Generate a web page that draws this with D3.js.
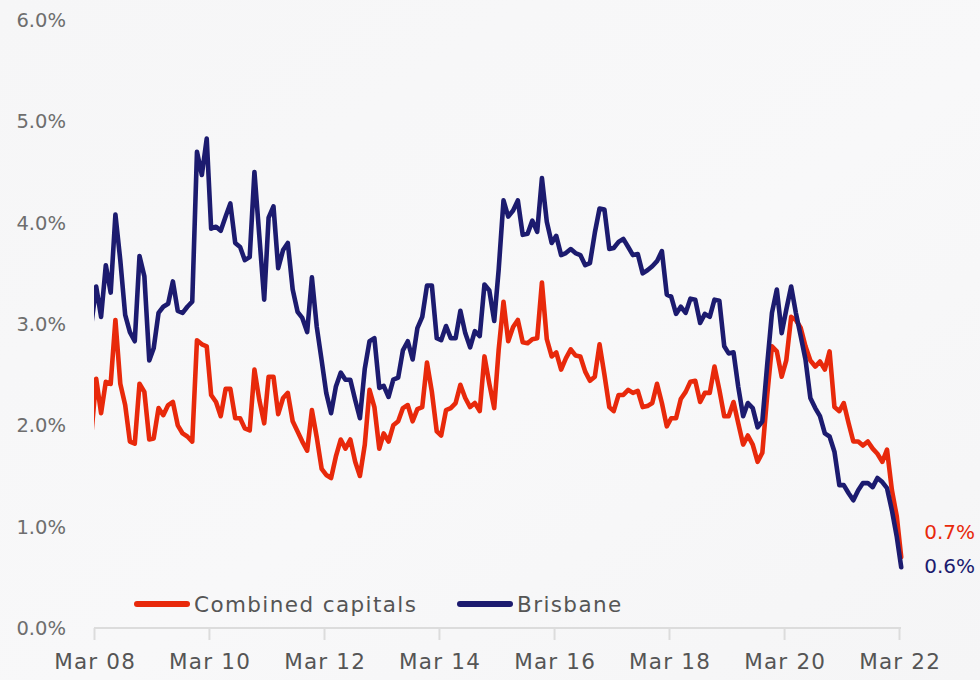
<!DOCTYPE html>
<html>
<head>
<meta charset="utf-8">
<script src="https://cdn.jsdelivr.net/npm/d3@7"></script>
<style>
  html, body { margin: 0; padding: 0; background: #f7f7f8; }
  svg { display: block; }
  text { font-family: "DejaVu Sans", "Noto Sans", sans-serif; }
</style>
</head>
<body>
<svg id="chart" width="980" height="680"></svg>
<script>
// Series, legend order
const seriesNames = ["Combined capitals", "Brisbane"];
const seriesColors = ["#e8290b", "#1c1b6f"];

// First observation month (Feb 2008); one value per month through Mar 2022, in %
const firstMonth = [2008, 1];

const combinedCapitals = [
  1.94,
  2.46, 2.12, 2.43, 2.41, 3.04, 2.41, 2.20, 1.84, 1.82, 2.41, 2.33, 1.86,
  1.87, 2.17, 2.10, 2.20, 2.23, 2.00, 1.92, 1.89, 1.84, 2.84, 2.80, 2.78,
  2.30, 2.23, 2.09, 2.36, 2.36, 2.07, 2.07, 1.97, 1.95, 2.55, 2.25, 2.02,
  2.48, 2.48, 2.11, 2.27, 2.32, 2.04, 1.94, 1.84, 1.75, 2.15, 1.88, 1.57,
  1.51, 1.48, 1.69, 1.86, 1.77, 1.86, 1.64, 1.50, 1.81, 2.35, 2.18, 1.77,
  1.92, 1.84, 2.00, 2.04, 2.17, 2.20, 2.04, 2.16, 2.18, 2.62, 2.33, 1.94,
  1.90, 2.15, 2.17, 2.22, 2.40, 2.27, 2.18, 2.22, 2.14, 2.68, 2.41, 2.17,
  2.74, 3.22, 2.83, 2.97, 3.04, 2.82, 2.81, 2.85, 2.86, 3.41, 2.85, 2.68,
  2.72, 2.55, 2.66, 2.75, 2.69, 2.68, 2.53, 2.44, 2.48, 2.80, 2.50, 2.18,
  2.14, 2.30, 2.30, 2.35, 2.32, 2.34, 2.18, 2.19, 2.22, 2.41, 2.22, 1.99,
  2.07, 2.07, 2.26, 2.33, 2.43, 2.44, 2.23, 2.32, 2.32, 2.58, 2.35, 2.09,
  2.09, 2.23, 2.02, 1.81, 1.90, 1.81, 1.64, 1.73, 2.30, 2.78, 2.73, 2.48,
  2.64, 3.07, 3.04, 2.96, 2.78, 2.64, 2.58, 2.63, 2.55, 2.73, 2.18, 2.14,
  2.22, 2.02, 1.84, 1.84, 1.80, 1.84, 1.77, 1.72, 1.64, 1.76, 1.36, 1.10,
  0.70
];

const brisbane = [
  3.02,
  3.37, 3.07, 3.58, 3.31, 4.08, 3.63, 3.09, 2.92, 2.83, 3.67, 3.47, 2.64,
  2.76, 3.11, 3.17, 3.20, 3.42, 3.13, 3.11, 3.17, 3.22, 4.70, 4.47, 4.83,
  3.94, 3.96, 3.92, 4.06, 4.19, 3.80, 3.76, 3.63, 3.66, 4.50, 3.87, 3.24,
  4.05, 4.16, 3.55, 3.73, 3.80, 3.34, 3.12, 3.06, 2.92, 3.46, 2.97, 2.64,
  2.32, 2.12, 2.38, 2.52, 2.45, 2.45, 2.25, 2.07, 2.56, 2.83, 2.86, 2.37,
  2.39, 2.28, 2.45, 2.47, 2.74, 2.83, 2.65, 2.96, 3.07, 3.38, 3.38, 2.86,
  2.84, 2.98, 2.86, 2.86, 3.13, 2.91, 2.77, 2.93, 2.88, 3.39, 3.33, 3.03,
  3.53, 4.22, 4.06, 4.12, 4.22, 3.88, 3.89, 4.02, 3.91, 4.44, 4.01, 3.80,
  3.87, 3.68, 3.70, 3.74, 3.70, 3.68, 3.58, 3.60, 3.90, 4.14, 4.13, 3.74,
  3.75, 3.81, 3.84, 3.76, 3.68, 3.69, 3.50, 3.53, 3.57, 3.62, 3.72, 3.29,
  3.27, 3.10, 3.17, 3.11, 3.25, 3.24, 3.01, 3.10, 3.07, 3.24, 3.23, 2.78,
  2.71, 2.72, 2.38, 2.09, 2.22, 2.17, 1.98, 2.04, 2.60, 3.11, 3.34, 2.91,
  3.14, 3.37, 3.11, 2.88, 2.65, 2.27, 2.17, 2.09, 1.92, 1.89, 1.74, 1.41,
  1.41, 1.33, 1.26, 1.36, 1.43, 1.43, 1.39, 1.48, 1.44, 1.38, 1.16, 0.90,
  0.60
];

const xTickLabels = ["Mar 08", "Mar 10", "Mar 12", "Mar 14", "Mar 16", "Mar 18", "Mar 20", "Mar 22"];
const xTickYears = [2008, 2010, 2012, 2014, 2016, 2018, 2020, 2022];
const yTickValues = [0, 1, 2, 3, 4, 5, 6];

const svg = d3.select("#chart");
const W = 980, H = 680;

// soft backdrop
const defs = svg.append("defs");
const bg = defs.append("linearGradient").attr("id", "bg")
  .attr("x1", "0").attr("y1", "0").attr("x2", "1").attr("y2", "1");
bg.append("stop").attr("offset", "0%").attr("stop-color", "#f6f6f7");
bg.append("stop").attr("offset", "55%").attr("stop-color", "#f8f8f9");
bg.append("stop").attr("offset", "100%").attr("stop-color", "#f5f5f6");
svg.append("rect").attr("width", W).attr("height", H).attr("fill", "url(#bg)");

const x = d3.scaleTime()
  .domain([new Date(2008, 2, 1), new Date(2022, 2, 1)])
  .range([94, 899]);
const y = d3.scaleLinear().domain([0, 6]).range([628, 20]);

// monthly observations dated mid-month
const dateAt = i => new Date(firstMonth[0], firstMonth[1] + i, 15);
const series = [combinedCapitals, brisbane].map((vals, k) => ({
  name: seriesNames[k],
  color: seriesColors[k],
  points: vals.map((v, i) => ({ date: dateAt(i), value: v }))
}));

defs.append("clipPath").attr("id", "plot-clip")
  .append("rect").attr("x", 94).attr("y", 0).attr("width", 830).attr("height", H);

// y tick labels
const fmtPct = d3.format(".1f");
svg.append("g").selectAll("text").data(yTickValues).join("text")
  .attr("x", 66).attr("y", d => y(d) + 7)
  .attr("text-anchor", "end")
  .attr("font-size", 19.5).attr("fill", "#6e6e6e")
  .text(d => fmtPct(d) + "%");

// x axis
const tickDates = xTickYears.map(yr => new Date(yr, 2, 1));
const xAxis = d3.axisBottom(x)
  .tickValues(tickDates)
  .tickSize(12)
  .tickPadding(14)
  .tickFormat((d, i) => xTickLabels[i]);
const gx = svg.append("g").attr("transform", "translate(0,628)").call(xAxis);
gx.select(".domain").attr("stroke", "#dcdcdc").attr("stroke-width", 2)
  .attr("d", `M${x.range()[0]},0H${x.range()[1] + 2}`);
gx.selectAll(".tick line").attr("stroke", "#dcdcdc").attr("stroke-width", 2);
gx.selectAll(".tick text")
  .attr("font-size", 21.5).attr("fill", "#555")
  .attr("letter-spacing", 1.2).attr("dx", 0.6)
  .attr("font-family", "\"DejaVu Sans\", sans-serif");

// lines
const line = d3.line().x(d => x(d.date)).y(d => y(d.value)).curve(d3.curveLinear);
const plot = svg.append("g").attr("clip-path", "url(#plot-clip)");
plot.selectAll("path").data(series).join("path")
  .attr("fill", "none")
  .attr("stroke", d => d.color)
  .attr("stroke-width", 4.6)
  .attr("stroke-linejoin", "round")
  .attr("stroke-linecap", "round")
  .attr("d", d => line(d.points));

// end-of-series value labels
const endLabelY = [539, 573];
svg.append("g").selectAll("text").data(series).join("text")
  .attr("x", 975).attr("y", (d, i) => endLabelY[i])
  .attr("text-anchor", "end")
  .attr("font-size", 20).attr("font-weight", 500)
  .attr("fill", d => d.color)
  .text(d => fmtPct(d.points[d.points.length - 1].value) + "%");

// legend
const legendX = [135, 458];
const lg = svg.append("g").selectAll("g").data(series).join("g")
  .attr("transform", (d, i) => `translate(${legendX[i]},604)`);
lg.append("line").attr("x1", 2).attr("x2", 52).attr("y1", 0).attr("y2", 0)
  .attr("stroke", d => d.color).attr("stroke-width", 6).attr("stroke-linecap", "round");
lg.append("text").attr("x", 59).attr("y", 8)
  .attr("font-size", 21.5).attr("fill", "#555")
  .attr("letter-spacing", 1.4)
  .text(d => d.name);
</script>
</body>
</html>
